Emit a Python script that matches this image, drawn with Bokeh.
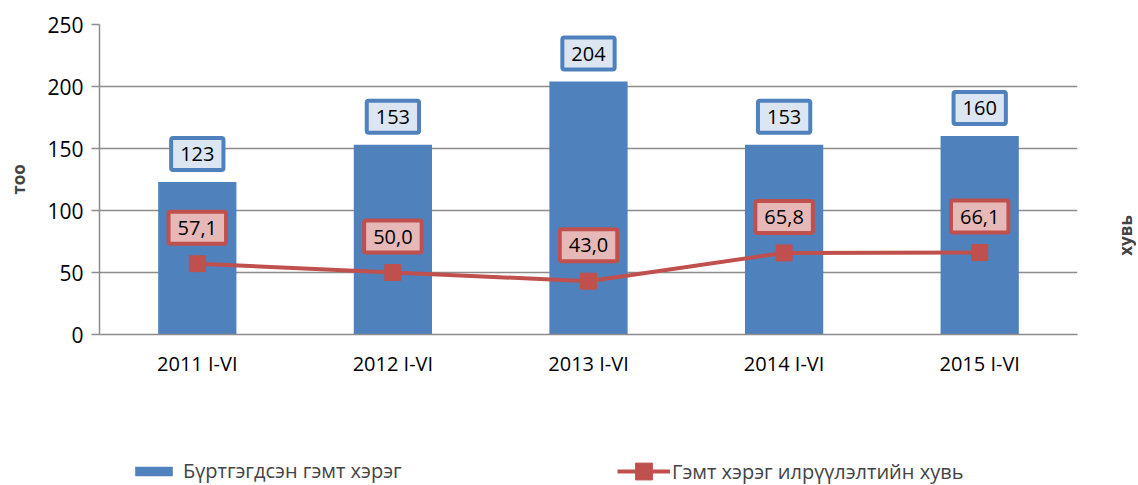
from bokeh.plotting import figure
from bokeh.layouts import column, row
from bokeh.models import (ColumnDataSource, Legend, LegendItem, Label,
                          SingleIntervalTicker, Range1d, FactorRange)
from bokeh.core.properties import value
from bokeh.embed import file_html
from bokeh.resources import INLINE

categories = ["2011 I-VI", "2012 I-VI", "2013 I-VI", "2014 I-VI", "2015 I-VI"]
registered = [123, 153, 204, 153, 160]
detection_rate = [57.1, 50.0, 43.0, 65.8, 66.1]
detection_labels = ["57,1", "50,0", "43,0", "65,8", "66,1"]
bar_name = "Бүртгэгдсэн гэмт хэрэг"
line_name = "Гэмт хэрэг илрүүлэлтийн хувь"
left_title = "тоо"
right_title = "хувь"

FONT = "Open Sans"
BLUE = "#4f81bd"
RED = "#c0504d"
GRID = "#8c8c8c"

W = 1086
SIDE_W = 50
MAIN_H = 440
LEG_H = 44
FRAME_L = 99
FRAME_R = 1077
FRAME_T = 24
FRAME_B = 334

src = ColumnDataSource(dict(cat=categories, reg=registered, rate=detection_rate,
                            reg_lbl=[str(v) for v in registered],
                            rate_lbl=detection_labels))

p = figure(width=W, height=MAIN_H, x_range=FactorRange(*categories),
           y_range=Range1d(0, 250), output_backend="svg", toolbar_location=None,
           min_border_left=FRAME_L, min_border_right=W - FRAME_R, min_border_top=FRAME_T,
           min_border_bottom=MAIN_H - FRAME_B)
p.outline_line_color = None
p.background_fill_color = "white"

bars = p.vbar(x="cat", top="reg", width=0.4, source=src, fill_color=BLUE, line_color=None)
line = p.line(x="cat", y="rate", source=src, line_color=RED, line_width=4)
marks = p.scatter(x="cat", y="rate", source=src, marker="square", size=16,
                  fill_color=RED, line_color=RED)

p.x_range.range_padding = 0
p.yaxis.ticker = SingleIntervalTicker(interval=50)
p.ygrid.grid_line_color = GRID
p.ygrid.grid_line_width = 1.5
p.xgrid.grid_line_color = None

for ax in (p.xaxis[0], p.yaxis[0]):
    ax.axis_line_color = GRID
    ax.axis_line_width = 1.5
    ax.major_label_text_font = FONT
    ax.major_label_text_color = "black"
    ax.minor_tick_line_color = None
p.yaxis.major_tick_line_color = GRID
p.yaxis.major_tick_line_width = 1.5
p.yaxis.major_tick_out = 8
p.yaxis.major_tick_in = 0
p.yaxis.major_label_text_font_size = "21px"
p.yaxis.major_label_standoff = 8
p.yaxis.axis_label = left_title
p.yaxis.axis_label_text_font = FONT
p.yaxis.axis_label_text_font_style = "bold"
p.yaxis.axis_label_text_font_size = "17px"
p.yaxis.axis_label_standoff = 14
p.xaxis.major_tick_line_color = None
p.xaxis.major_label_text_font_size = "20px"
p.xaxis.major_label_standoff = 9

p.text(x="cat", y="reg", text="reg_lbl", source=src, y_offset=-28,
       text_align="center", text_baseline="middle",
       text_font=value(FONT), text_font_size="20px", text_color="black",
       background_fill_color="#dce6f2", border_line_color=BLUE,
       border_line_width=4, padding=9, border_radius=2)
p.text(x="cat", y="rate", text="rate_lbl", source=src, y_offset=-36,
       text_align="center", text_baseline="middle",
       text_font=value(FONT), text_font_size="20px", text_color="black",
       background_fill_color="#e6b9b8", border_line_color=RED,
       border_line_width=4, padding=9, border_radius=2)

# narrow side panel carrying the right-hand title (its frame aligns with the chart frame)
pr = figure(width=SIDE_W, height=MAIN_H, x_range=Range1d(0, 1), y_range=Range1d(0, 1),
            output_backend="svg", toolbar_location=None,
            x_axis_location=None, y_axis_location=None,
            min_border_left=0, min_border_right=0,
            min_border_top=0, min_border_bottom=0)
pr.outline_line_color = None
pr.grid.visible = False
pr.add_layout(Label(x=0, y=FRAME_B - 235, x_units="screen", y_units="screen",
                    x_offset=39, text=right_title, angle=1.5708, text_align="center",
                    text_baseline="middle", text_font=FONT, text_font_style="bold",
                    text_font_size="17px"))

# legend strip below the chart
pl = figure(width=W, height=LEG_H, x_range=Range1d(0, 1), y_range=Range1d(0, 1),
            output_backend="svg", toolbar_location=None,
            x_axis_location=None, y_axis_location=None,
            min_border_left=FRAME_L, min_border_right=W - FRAME_R,
            min_border_top=0, min_border_bottom=0)
pl.outline_line_color = None
pl.grid.visible = False
lb = pl.vbar(x=[5], top=[5], bottom=[4], width=0.1, fill_color=BLUE, line_color=None)
ll = pl.line(x=[5, 6], y=[5, 5], line_color=RED, line_width=4)
lm = pl.scatter(x=[5], y=[5], marker="square", size=16, fill_color=RED, line_color=RED)

leg1 = Legend(items=[LegendItem(label=bar_name, renderers=[lb])],
              location=(130 - FRAME_L, 0), padding=0, margin=0, border_line_color=None,
              background_fill_alpha=0, glyph_width=47, glyph_height=12,
              label_height=26, label_text_font=FONT, label_text_font_size="20px",
              label_standoff=6)
leg2 = Legend(items=[LegendItem(label=line_name, renderers=[ll, lm])],
              location=(617 - FRAME_L, -8), padding=0, margin=0, border_line_color=None,
              background_fill_alpha=0, glyph_width=53, glyph_height=42,
              label_height=26, label_text_font=FONT, label_text_font_size="20px",
              label_standoff=2)
pl.add_layout(leg1)
pl.add_layout(leg2)

layout = column(row(p, pr, spacing=0), pl, spacing=0)
open("out.html", "w").write(file_html(layout, INLINE))
